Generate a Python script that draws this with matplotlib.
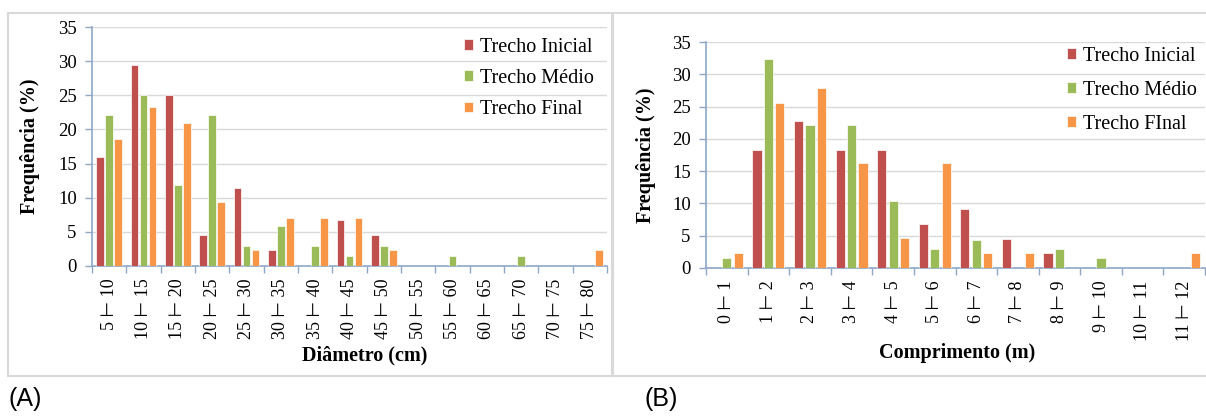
import numpy as np
import matplotlib.pyplot as plt
from matplotlib.patches import Rectangle

# (A) diametro
diam_labels = ['5 ⊢ 10', '10 ⊢ 15', '15 ⊢ 20', '20 ⊢ 25', '25 ⊢ 30', '30 ⊢ 35',
               '35 ⊢ 40', '40 ⊢ 45', '45 ⊢ 50', '50 ⊢ 55', '55 ⊢ 60', '60 ⊢ 65',
               '65 ⊢ 70', '70 ⊢ 75', '75 ⊢ 80']
diam_inicial = [15.9, 29.5, 25.0, 4.5, 11.4, 2.3, 0, 6.8, 4.5, 0, 0, 0, 0, 0, 0]
diam_medio = [22.1, 25.0, 11.8, 22.1, 2.9, 5.9, 2.9, 1.5, 2.9, 0, 1.5, 0, 1.5, 0, 0]
diam_final = [18.6, 23.3, 20.9, 9.3, 2.3, 7.0, 7.0, 7.0, 2.3, 0, 0, 0, 0, 0, 2.3]

# (B) comprimento
comp_labels = ['0 ⊢ 1', '1 ⊢ 2', '2 ⊢ 3', '3 ⊢ 4', '4 ⊢ 5', '5 ⊢ 6', '6 ⊢ 7',
               '7 ⊢ 8', '8 ⊢ 9', '9 ⊢ 10', '10 ⊢ 11', '11 ⊢ 12']
comp_inicial = [0, 18.2, 22.7, 18.2, 18.2, 6.8, 9.1, 4.5, 2.3, 0, 0, 0]
comp_medio = [1.5, 32.4, 22.1, 22.1, 10.3, 2.9, 4.4, 0, 2.9, 1.5, 0, 0]
comp_final = [2.3, 25.6, 27.9, 16.3, 4.7, 16.3, 2.3, 2.3, 0, 0, 0, 2.3]

RED = '#C0504D'
GREEN = '#9BBB59'
ORANGE = '#F79646'
AXC = '#8EA7C6'
GRID = '#D9D9D9'
SERIF = ['Liberation Serif', 'DejaVu Sans']

plt.rcParams['font.family'] = SERIF

fig = plt.figure(figsize=(12.06, 4.16), dpi=100)
W, H = 1206, 416


def fx(px):
    return px / W


def fy(py):
    return 1 - py / H


def panel(left, right, top, bottom, labels, series, names, slot, width,
          leg_xy, leg_sp, xlabel, xlabel_x, xlabel_y, ylabel_x):
    ax = fig.add_axes([fx(left), fy(bottom), fx(right - left), (bottom - top) / H])
    x = np.arange(len(labels))
    colors = [RED, GREEN, ORANGE]
    for i, (vals, name) in enumerate(zip(series, names)):
        ax.bar(x + (i - 1) * slot, vals, width=width, color=colors[i],
               edgecolor='white', linewidth=0.5, label=name, zorder=3)
    ax.set_xlim(-0.5, len(labels) - 0.5)
    ax.set_ylim(0, 35)
    ax.set_yticks(range(0, 36, 5))
    ax.yaxis.grid(True, color=GRID, linewidth=1, zorder=0)
    for s in ['top', 'right']:
        ax.spines[s].set_visible(False)
    for s in ['left', 'bottom']:
        ax.spines[s].set_color(AXC)
        ax.spines[s].set_linewidth(1.2)
    ax.set_xticks(x)
    ax.set_xticklabels(labels, rotation=90, fontsize=13)
    ax.set_xticks(np.arange(len(labels) + 1) - 0.5, minor=True)
    ax.tick_params(axis='x', which='major', length=0, pad=9)
    ax.tick_params(axis='x', which='minor', length=5, color=AXC, width=1)
    ax.tick_params(axis='y', length=5, color=AXC, width=1, labelsize=13.5, pad=6)
    ax.legend(loc='upper left', bbox_to_anchor=leg_xy,
              bbox_transform=fig.transFigure, frameon=False, fontsize=14.5,
              handlelength=0.45, handleheight=0.45, handletextpad=0.35,
              labelspacing=leg_sp, borderpad=0, borderaxespad=0)
    fig.text(fx(xlabel_x), fy(xlabel_y), xlabel, fontsize=14.5, fontweight='bold',
             ha='center', va='center')
    fig.text(fx(ylabel_x), fy(bottom) + (bottom - top) / H / 2, 'Frequência (%)',
             fontsize=14.5, fontweight='bold', rotation=90, ha='center', va='center')
    return ax


panel(92, 607, 27, 266, diam_labels, [diam_inicial, diam_medio, diam_final],
      ['Trecho Inicial', 'Trecho Médio', 'Trecho Final'], 0.26, 0.22,
      (fx(464), fy(38)), 0.6, 'Diâmetro (cm)', 365, 355, 30)

panel(706, 1205, 42, 268, comp_labels, [comp_inicial, comp_medio, comp_final],
      ['Trecho Inicial', 'Trecho Médio', 'Trecho FInal'], 0.275, 0.22,
      (fx(1067), fy(47)), 0.74, 'Comprimento (m)', 957, 353, 646)

# panel frames
fig.patches.append(Rectangle((fx(8), fy(376)), fx(604), (376 - 13) / H,
                             transform=fig.transFigure, fill=False,
                             edgecolor=GRID, linewidth=1.5))
fig.patches.append(Rectangle((fx(613), fy(376)), fx(600), (376 - 13) / H,
                             transform=fig.transFigure, fill=False,
                             edgecolor=GRID, linewidth=1.5))

fig.text(fx(9), fy(399), '(A)', fontsize=18, family='Liberation Sans',
         ha='left', va='center')
fig.text(fx(644), fy(399), '(B)', fontsize=18, family='Liberation Sans',
         ha='left', va='center')

fig.savefig('out.png', dpi=100)
